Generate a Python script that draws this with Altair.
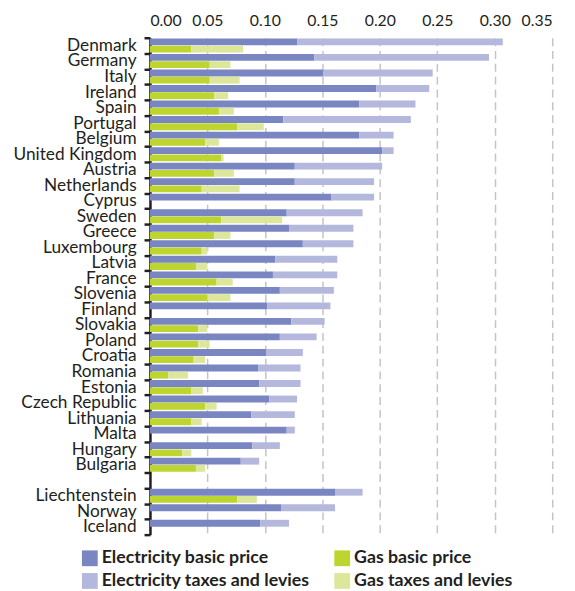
import altair as alt
import pandas as pd

eu_countries = ["Denmark", "Germany", "Italy", "Ireland", "Spain", "Portugal", "Belgium",
                "United Kingdom", "Austria", "Netherlands", "Cyprus", "Sweden", "Greece",
                "Luxembourg", "Latvia", "France", "Slovenia", "Finland", "Slovakia", "Poland",
                "Croatia", "Romania", "Estonia", "Czech Republic", "Lithuania", "Malta",
                "Hungary", "Bulgaria"]
efta_countries = ["Liechtenstein", "Norway", "Iceland"]
countries = eu_countries + efta_countries

elec_basic = [0.128, 0.143, 0.151, 0.197, 0.182, 0.116, 0.182, 0.202, 0.126, 0.126, 0.158,
              0.119, 0.121, 0.133, 0.109, 0.107, 0.113, 0.102, 0.123, 0.113, 0.101, 0.094,
              0.095, 0.104, 0.088, 0.119, 0.089, 0.079, 0.161, 0.114, 0.096]
elec_taxes = [0.179, 0.152, 0.095, 0.046, 0.049, 0.111, 0.030, 0.010, 0.076, 0.069, 0.037,
              0.066, 0.056, 0.044, 0.054, 0.056, 0.047, 0.055, 0.029, 0.032, 0.032, 0.037,
              0.036, 0.024, 0.038, 0.007, 0.024, 0.016, 0.024, 0.047, 0.025]
gas_basic = [0.036, 0.052, 0.052, 0.056, 0.060, 0.076, 0.048, 0.062, 0.056, 0.045, None,
             0.062, 0.056, 0.045, 0.040, 0.058, 0.050, None, 0.042, 0.042, 0.038, 0.016,
             0.036, 0.048, 0.036, None, 0.028, 0.040, 0.076, None, None]
gas_taxes = [0.045, 0.018, 0.026, 0.012, 0.013, 0.023, 0.012, 0.002, 0.017, 0.033, None,
             0.053, 0.014, 0.005, 0.010, 0.014, 0.020, None, 0.008, 0.010, 0.010, 0.017,
             0.010, 0.010, 0.009, None, 0.008, 0.008, 0.017, None, None]

x_ticks = [0.0, 0.05, 0.10, 0.15, 0.20, 0.25, 0.30, 0.35]
legend_order = ["Electricity basic price", "Electricity taxes and levies",
                "Gas basic price", "Gas taxes and levies"]
colors = ["#7a86c2", "#b3b8dc", "#bdd52e", "#dde79a"]

y_domain = eu_countries + [" "] + efta_countries

rows = []
for i, c in enumerate(countries):
    eb, et = elec_basic[i], elec_taxes[i]
    rows.append(dict(country=c, series="Electricity", component="Electricity basic price",
                     start=0.0, end=eb))
    rows.append(dict(country=c, series="Electricity", component="Electricity taxes and levies",
                     start=eb, end=eb + et))
    gb, gt = gas_basic[i], gas_taxes[i]
    if gb is not None:
        rows.append(dict(country=c, series="Gas", component="Gas basic price",
                         start=0.0, end=gb))
        rows.append(dict(country=c, series="Gas", component="Gas taxes and levies",
                         start=gb, end=gb + gt))
df = pd.DataFrame(rows)

FONT = "Lato"
TXT = "#231f20"

chart = alt.Chart(df).mark_bar().encode(
    x=alt.X("start:Q",
            scale=alt.Scale(domain=[0, 0.35], nice=False, zero=True),
            axis=alt.Axis(orient="top", values=x_ticks, format=".2f", grid=True,
                          gridDash=[8, 5], gridColor="#c4c4c4", gridWidth=1.5,
                          ticks=False, tickSize=0, domain=False, labelFontSize=16,
                          labelPadding=9, labelColor=TXT, labelFont=FONT, title=None)),
    x2="end:Q",
    y=alt.Y("country:N",
            scale=alt.Scale(domain=y_domain, paddingInner=0, paddingOuter=0),
            axis=alt.Axis(title=None, tickBand="extent", ticks=True, tickSize=6,
                          tickWidth=2.5, tickColor=TXT, domainColor=TXT, domainWidth=2.5,
                          labelFontSize=17.5, labelPadding=8, labelColor=TXT, labelFont=FONT,
                          grid=False, labelLimit=300)),
    yOffset=alt.YOffset("series:N", sort=["Electricity", "Gas"],
                        scale=alt.Scale(paddingInner=0.05, paddingOuter=0.1)),
    color=alt.Color("component:N",
                    scale=alt.Scale(domain=legend_order, range=colors),
                    legend=alt.Legend(title=None, orient="none", legendX=-70, legendY=519,
                                      columns=2, symbolType="square", symbolSize=256,
                                      symbolStrokeWidth=0, symbolOpacity=1,
                                      labelFont=FONT, labelFontSize=18,
                                      labelFontWeight="bold", labelColor=TXT,
                                      rowPadding=5, columnPadding=24, labelOffset=3,
                                      labelLimit=400)),
).properties(
    width=408, height=504,
    padding={"left": 144, "top": 26, "right": 15, "bottom": 53},
    autosize=alt.AutoSizeParams(type="none"),
    background="white",
).configure_view(stroke=None)

chart.save("out.html", embed_options={"renderer": "svg", "actions": False})
